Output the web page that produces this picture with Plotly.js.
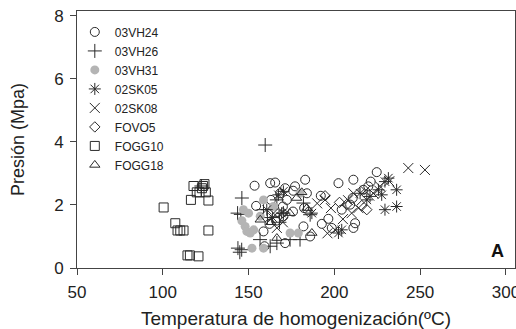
<!DOCTYPE html>
<html><head><meta charset="utf-8">
<script src="https://cdn.plot.ly/plotly-3.0.1.min.js"></script>
<style>html,body{margin:0;padding:0;background:#fff}#chart{width:516px;height:329px}</style>
</head><body><div id="chart"></div>
<script>
// 03VH24 (open circles)
const x_03VH24 = [153.5,154.4,158.7,159.3,162.6,165.5,163,162.2,168.4,171.3,172.3,170,170.3,171.3,177.1,175.9,183,184,182.4,182,185.9,192.1,192.7,196.5,198.5,202.4,204.3,211.1,210.7,209.2,212.1,211.1,216.9,219.8,221.2,224.7,166,176];
const y_03VH24 = [2.61,1.97,1.16,0.69,2.69,2.71,2.16,1.40,2.37,2.53,2.16,1.95,1.64,0.79,2.59,1.79,2.80,2.37,1.90,1.32,1.00,2.29,1.40,1.56,1.27,2.69,1.85,2.80,2.22,2.01,1.42,1.27,2.48,2.59,2.74,3.04,1.50,2.45];
// 03VH26 (plus)
const x_03VH26 = [159.7,146.1,143.6,145.5,143.8,144.9,146,158.7,156.7,166.5,174.2,180,166.5,170.3,185.9,162.6,182,122.5,161,168];
const y_03VH26 = [3.90,2.22,1.74,1.70,0.63,0.50,0.58,1.85,0.90,0.79,0.90,0.90,2.16,1.74,1.69,0.69,2.06,2.60,1.60,1.45];
// 03VH31 (grey filled circles)
const x_03VH31 = [147,150,148,149,151,153,152,158.7,158.7,164.5,174.2,179,156.8,180,146.1];
const y_03VH31 = [1.85,1.74,1.32,1.16,1.11,1.21,0.63,0.63,2.16,1.95,1.11,1.11,1.64,2.37,1.50];
// 02SK05 (asterisk)
const x_02SK05 = [229.5,231.5,236.3,229.5,236.3,227.6,220.8,218.9,215,202.4,204.3,167.4,170.3,169.3,160.6,186.9,225.7,164];
const y_02SK05 = [2.74,2.85,2.48,1.85,1.95,2.32,2.27,2.16,2.37,1.11,1.21,2.32,2.43,1.74,1.85,1.74,2.48,1.60];
// 02SK08 (x)
const x_02SK08 = [243.1,252.8,232,226.6,222.7,218,211.1,208,210.1,205,200.4,196,194.6,190,166.5,170,164.5,214,198];
const y_02SK08 = [3.17,3.11,2.75,2.59,2.37,2.45,2.37,2.15,1.74,1.55,1.21,1.10,2.16,2.05,1.27,1.45,1.74,1.90,1.90];
// FOVO5 (diamond)
const x_FOVO5 = [218.9,207.2,194.6,184.9,203,216,170];
const y_FOVO5 = [1.85,2.01,2.29,1.79,2.08,1.98,1.75];
// FOGG10 (square)
const x_FOGG10 = [100.5,107.3,108.6,110.2,112.1,114.4,115.8,120.8,116.4,117.9,119.8,121.4,122.8,124.3,125.1,126.6,126.6,123.5];
const y_FOGG10 = [1.92,1.42,1.19,1.19,1.19,0.40,0.40,0.37,2.16,2.60,2.40,2.40,2.53,2.66,2.40,2.14,1.19,2.60];
// FOGG18 (triangle)
const x_FOGG18 = [178,186.9,166.5,156.8,184,174,163,181];
const y_FOGG18 = [2.22,1.11,0.95,1.53,1.90,1.74,1.45,2.40];

const names = ['03VH24','03VH26','03VH31','02SK05','02SK08','FOVO5','FOGG10','FOGG18'];
const xs = [x_03VH24,x_03VH26,x_03VH31,x_02SK05,x_02SK08,x_FOVO5,x_FOGG10,x_FOGG18];
const ys = [y_03VH24,y_03VH26,y_03VH31,y_02SK05,y_02SK08,y_FOVO5,y_FOGG10,y_FOGG18];
const symbols = ['circle-open','cross-thin-open','circle','asterisk-open','x-thin-open','diamond-open','square-open','triangle-up-open'];
const sizes = [9,10,9,10,10,8,9,9];
const ink = '#2a2a2a';

const traces = names.map((n,i)=>({
  type:'scatter', mode:'markers', name:n, x:xs[i], y:ys[i],
  marker:{symbol:symbols[i], size:sizes[i],
    color: i===2 ? '#b4b4b4' : ink,
    line:{color: i===2 ? '#b4b4b4' : ink, width: i===2 ? 0 : 1}}
}));

const layout = {
  width:516, height:329,
  margin:{l:77, r:1, t:11, b:61},
  paper_bgcolor:'#fff', plot_bgcolor:'#fff',
  font:{family:'Liberation Sans, Arial, sans-serif', color:'#222'},
  showlegend:true,
  legend:{x:-0.005, y:0.975, xanchor:'left', yanchor:'top', bgcolor:'rgba(0,0,0,0)',
    font:{size:12, color:'#222'}, itemwidth:30, tracegroupgap:0},
  xaxis:{range:[50,305.3], tickvals:[50,100,150,200,250,300], ticks:'outside', ticklen:6, tickcolor:'#444',
    showgrid:false, zeroline:false, showline:true, linecolor:'#444', linewidth:1, mirror:true,
    ticklabeloverflow:'allow', ticklabelstandoff:3,
    tickfont:{size:17, color:'#222'},
    title:{text:'Temperatura de homogenización(ºC)', font:{size:19, color:'#222'}, standoff:11}},
  yaxis:{range:[0,8.15], tickvals:[0,2,4,6,8], ticks:'outside', ticklen:6, tickcolor:'#444',
    showgrid:false, zeroline:false, showline:true, linecolor:'#444', linewidth:1, mirror:true,
    ticklabelstandoff:3,
    tickfont:{size:17, color:'#222'},
    title:{text:'Presión (Mpa)', font:{size:18, color:'#222'}, standoff:24}},
  annotations:[{xref:'paper', yref:'paper', x:0.98, y:0.065, xanchor:'right', yanchor:'middle',
    text:'<b>A</b>', showarrow:false, font:{size:18, color:'#111'}}]
};
Plotly.newPlot('chart', traces, layout, {displayModeBar:false, staticPlot:true});
</script></body></html>
